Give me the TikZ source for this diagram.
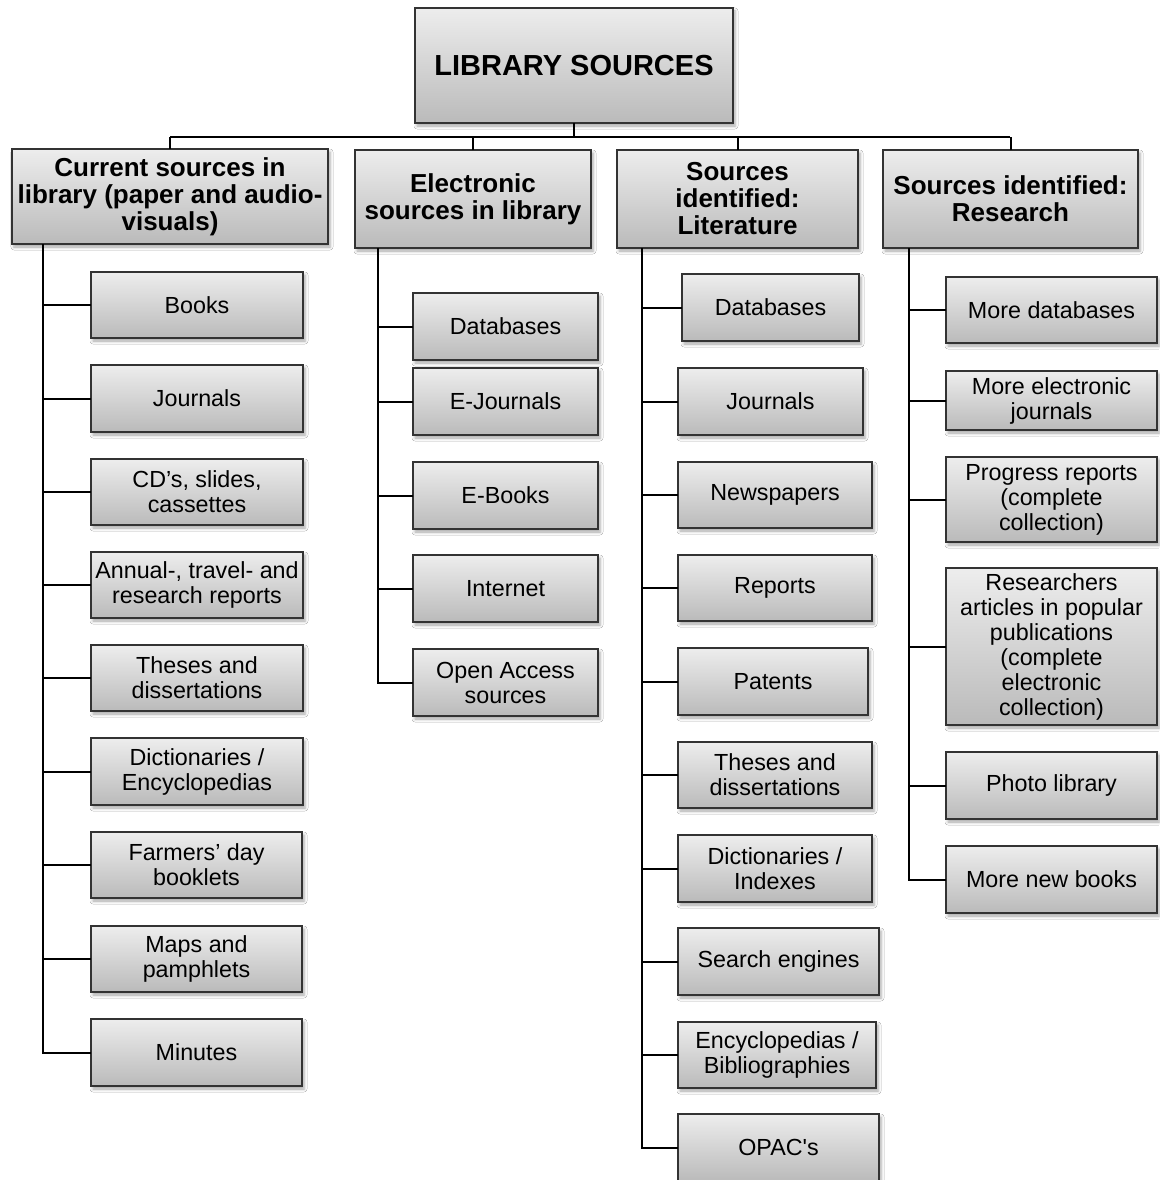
\documentclass[tikz,border=0pt]{standalone}
\usepackage{fontspec}
\setmainfont{Liberation Sans}
\usetikzlibrary{shadows.blur}

% box given by its left, top, right and bottom edges (in px-like units)
\newcommand\libbox[7]{%
  \node[#1, minimum width={(#5-#3)*1pt}, minimum height={(#6-#4)*1pt}]
    (#2) at ({(#3+#5)/2},{(#4+#6)/2}) {#7};}

\tikzset{
  panel/.style={draw=black!80, line width=1.8pt, rectangle, inner sep=0pt, outer sep=0pt,
    align=center, top color=black!7, bottom color=black!27,
    blur shadow={shadow xshift=2pt, shadow yshift=-3pt, shadow blur radius=3pt, shadow opacity=35}},
  topbox/.style={panel, font=\fontsize{29}{32}\selectfont\bfseries},
  headbox/.style={panel, font=\fontsize{26}{27}\selectfont\bfseries},
  itembox/.style={panel, font=\fontsize{23.3}{25}\selectfont},
  link/.style={draw=black, line width=2pt}
}

\begin{document}
\begin{tikzpicture}[x=1pt,y=-1pt]
\fill[white] (0,0) rectangle (1159,1180);
\useasboundingbox (0,0) rectangle (1159,1180);

% root and the four branches
\libbox{topbox}{root}{415}{8}{733}{123}{LIBRARY SOURCES}
\libbox{headbox}{h1}{12}{149}{328}{244}{Current sources in\\library (paper and audio-\\visuals)}
\libbox{headbox}{h2}{355}{150}{591}{248}{Electronic\\sources in library}
\libbox{headbox}{h3}{617}{150}{858}{248}{Sources\\identified:\\Literature}
\libbox{headbox}{h4}{883}{150}{1138}{248}{Sources identified:\\Research}

% current sources in library
\libbox{itembox}{a1}{91}{272}{303}{338}{Books}
\libbox{itembox}{a2}{91}{365}{303}{432}{Journals}
\libbox{itembox}{a3}{91}{459}{303}{525}{CD’s, slides,\\cassettes}
\libbox{itembox}{a4}{91}{552}{303}{618}{Annual-, travel- and\\research reports}
\libbox{itembox}{a5}{91}{645}{303}{711}{Theses and\\dissertations}
\libbox{itembox}{a6}{91}{738}{303}{805}{Dictionaries /\\Encyclopedias}
\libbox{itembox}{a7}{91}{832}{302}{898}{Farmers’ day\\booklets}
\libbox{itembox}{a8}{91}{926}{302}{992}{Maps and\\pamphlets}
\libbox{itembox}{a9}{91}{1019}{302}{1086}{Minutes}

% electronic sources in library
\libbox{itembox}{b1}{413}{293}{598}{360}{Databases}
\libbox{itembox}{b2}{413}{368}{598}{435}{E-Journals}
\libbox{itembox}{b3}{413}{462}{598}{529}{E-Books}
\libbox{itembox}{b4}{413}{555}{598}{622}{Internet}
\libbox{itembox}{b5}{413}{649}{598}{716}{Open Access\\sources}

% sources identified: literature
\libbox{itembox}{c1}{682}{274}{859}{341}{Databases}
\libbox{itembox}{c2}{678}{368}{863}{435}{Journals}
\libbox{itembox}{c3}{678}{462}{872}{528}{Newspapers}
\libbox{itembox}{c4}{678}{555}{872}{621}{Reports}
\libbox{itembox}{c5}{678}{648}{868}{715}{Patents}
\libbox{itembox}{c6}{678}{742}{872}{808}{Theses and\\dissertations}
\libbox{itembox}{c7}{678}{835}{872}{902}{Dictionaries /\\Indexes}
\libbox{itembox}{c8}{678}{928}{879}{995}{Search engines}
\libbox{itembox}{c9}{678}{1022}{876}{1088}{Encyclopedias /\\Bibliographies}
\libbox{itembox}{c10}{678}{1114}{879}{1181}{OPAC\textquotesingle s}

% sources identified: research
\libbox{itembox}{d1}{946}{277}{1157}{343}{More databases}
\libbox{itembox}{d2}{946}{371}{1157}{430}{More electronic\\journals}
\libbox{itembox}{d3}{946}{457}{1157}{542}{Progress reports\\(complete\\collection)}
\libbox{itembox}{d4}{946}{568}{1157}{725}{Researchers\\articles in popular\\publications\\(complete\\electronic\\collection)}
\libbox{itembox}{d5}{946}{752}{1157}{819}{Photo library}
\libbox{itembox}{d6}{946}{846}{1157}{913}{More new books}

% bus from the root to the branches
\coordinate (busL) at (170,137);
\coordinate (busR) at (1010,137);
\draw[link] (busL) -- (busR);
\draw[link] (root.south) -- (root.south |- busL);
\foreach \h in {h1,h2,h3,h4}
  \draw[link] (\h.north) -- (\h.north |- busL);

% spines under each branch
\coordinate (s1) at (43,0);
\coordinate (s2) at (378,0);
\coordinate (s3) at (642,0);
\coordinate (s4) at (909,0);
\foreach \c in {a1,a2,a3,a4,a5,a6,a7,a8,a9}
  \draw[link] (h1.south -| s1) |- (\c.west);
\foreach \c in {b1,b2,b3,b4,b5}
  \draw[link] (h2.south -| s2) |- (\c.west);
\foreach \c in {c1,c2,c3,c4,c5,c6,c7,c8,c9,c10}
  \draw[link] (h3.south -| s3) |- (\c.west);
\foreach \c in {d1,d2,d3,d4,d5,d6}
  \draw[link] (h4.south -| s4) |- (\c.west);
\end{tikzpicture}
\end{document}
